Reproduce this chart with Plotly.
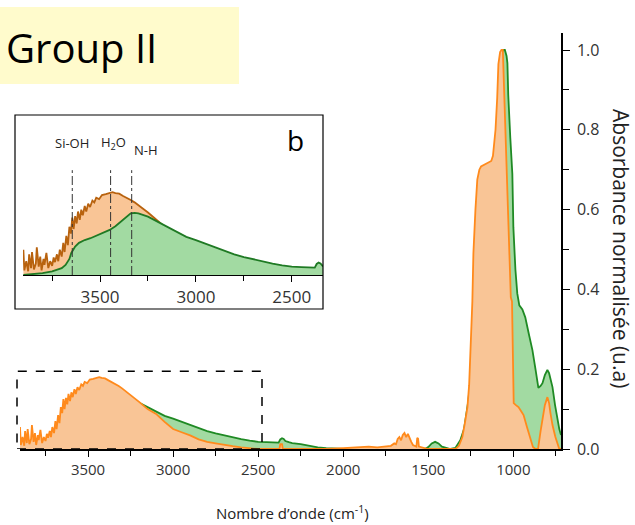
import plotly.graph_objects as go

# ---------------- data ----------------
wn_a = [3900, 3895, 3885, 3875, 3870, 3860, 3855, 3845, 3835, 3830, 3820, 3812, 3805, 3795, 3790,
        3780, 3770, 3760, 3750, 3742, 3735, 3725, 3718, 3710, 3700, 3692, 3685, 3676, 3668, 3660,
        3652, 3645, 3638, 3630, 3622, 3615, 3606, 3598, 3590, 3580, 3572, 3562, 3552, 3540, 3530,
        3520, 3505, 3490, 3470, 3450, 3435, 3420, 3400, 3380,
        3360, 3340, 3320, 3300, 3250, 3200, 3150, 3100, 3050, 3000, 2950, 2900, 2850, 2800, 2750,
        2700, 2650, 2600, 2550, 2500, 2400, 2375, 2370, 2360, 2355, 2300, 2100, 2000, 1900, 1850,
        1800, 1750, 1720, 1700, 1690, 1680, 1670, 1660, 1650, 1640, 1630, 1620, 1610, 1600, 1590,
        1580, 1570, 1565, 1560, 1555, 1540, 1500, 1400, 1340, 1320, 1300, 1285, 1270, 1260, 1253,
        1245, 1241, 1235, 1228, 1223, 1212, 1200, 1190, 1170, 1150, 1130, 1120, 1110, 1105, 1095,
        1088, 1078, 1070, 1062, 1058, 1052, 1045, 1035, 1025, 1015, 1008, 1002, 998, 985, 970,
        955, 940, 920, 900, 885, 870, 855, 840, 829, 815, 800, 790, 782, 770, 753, 740, 730, 720]
abs_a = [0.055, 0.010, 0.030, 0.008, 0.045, 0.015, 0.050, 0.012, 0.025, 0.060, 0.018, 0.040, 0.010, 0.035, 0.022,
         0.048, 0.015, 0.030, 0.020, 0.038, 0.028, 0.045, 0.030, 0.055, 0.040, 0.070, 0.050, 0.085, 0.065, 0.105,
         0.090, 0.125, 0.100, 0.128, 0.112, 0.138, 0.120, 0.142, 0.130, 0.150, 0.138, 0.155, 0.148, 0.162, 0.158,
         0.168, 0.165, 0.174, 0.176, 0.178, 0.180, 0.178, 0.177, 0.172,
         0.168, 0.163, 0.158, 0.152, 0.136, 0.118, 0.100, 0.088, 0.068, 0.050, 0.042, 0.034, 0.024, 0.018, 0.014,
         0.010, 0.007, 0.004, 0.002, 0.000, 0.000, 0.000, 0.012, 0.012, 0.000, 0.000, 0.000, 0.002, 0.004, 0.006,
         0.004, 0.006, 0.008, 0.014, 0.012, 0.025, 0.030, 0.022, 0.035, 0.040, 0.030, 0.038, 0.025, 0.018, 0.010,
         0.008, 0.006, 0.028, 0.026, 0.006, 0.004, 0.000, 0.000, 0.000, 0.008, 0.030, 0.065, 0.105, 0.160, 0.228,
         0.300, 0.370, 0.490, 0.560, 0.600, 0.675, 0.700, 0.708, 0.712, 0.717, 0.722, 0.735, 0.770, 0.800, 0.880,
         0.965, 0.995, 1.000, 1.000, 0.950, 0.880, 0.800, 0.650, 0.500, 0.380, 0.370, 0.200, 0.115, 0.110, 0.105,
         0.095, 0.085, 0.055, 0.025, 0.005, 0.000, 0.000, 0.045, 0.073, 0.110, 0.130, 0.115, 0.090, 0.060, 0.030, 0.010, 0.000, 0.000]

wn_b = [3900, 3850, 3800, 3750, 3700, 3680, 3660, 3650, 3630, 3610, 3580, 3550, 3520, 3480, 3450,
        3420, 3400, 3380, 3360, 3340, 3320, 3300, 3250, 3200, 3150, 3100, 3050, 3000, 2950, 2900,
        2850, 2800, 2750, 2700, 2650, 2600, 2550, 2500, 2450, 2400, 2380, 2370, 2360, 2350, 2340,
        2320, 2300, 2250, 2200, 2150, 2100, 2050, 2000, 1800, 1600, 1520, 1500, 1480, 1460, 1440,
        1420, 1400, 1370, 1340, 1312, 1290, 1282, 1265, 1253, 1240, 1230, 1220, 1200, 1150, 1120,
        1100, 1090, 1080, 1070, 1060, 1050, 1040, 1035, 1030, 1018, 1006, 1000, 994, 988, 977,
        965, 947, 930, 910, 888, 870, 853, 840, 829, 815, 800, 790, 770, 755, 741, 730, 720]
abs_b = [0.000, 0.002, 0.004, 0.008, 0.015, 0.022, 0.035, 0.048, 0.062, 0.070, 0.076, 0.080, 0.085, 0.092, 0.098,
         0.106, 0.113, 0.120, 0.128, 0.134, 0.135, 0.134, 0.127, 0.116, 0.104, 0.094, 0.083, 0.076, 0.068, 0.060,
         0.052, 0.045, 0.039, 0.034, 0.029, 0.025, 0.021, 0.018, 0.017, 0.016, 0.016, 0.024, 0.027, 0.025, 0.020,
         0.017, 0.015, 0.012, 0.008, 0.004, 0.002, 0.001, 0.000, 0.000, 0.000, 0.000, 0.005, 0.014, 0.018, 0.014,
         0.006, 0.003, 0.000, 0.003, 0.022, 0.050, 0.073, 0.120, 0.170, 0.300, 0.450, 0.550, 0.620, 0.660, 0.700,
         0.780, 0.880, 0.960, 0.990, 1.000, 1.000, 0.985, 0.967, 0.887, 0.780, 0.690, 0.556, 0.500, 0.450, 0.390,
         0.360, 0.350, 0.330, 0.290, 0.248, 0.200, 0.153, 0.158, 0.165, 0.185, 0.198, 0.190, 0.155, 0.110, 0.073, 0.050, 0.035]

x_ticks = [3500, 3000, 2500, 2000, 1500, 1000]
inset_ticks = [3500, 3000, 2500]
band_pos = [3645, 3445, 3335]
band_labels = ["Si-OH", "H<sub>2</sub>O", "N-H"]
band_label_pos = [3648, 3432, 3262]

# ---------------- geometry helpers (pixels -> paper) ----------------
W, H = 635, 525
L, R, T, B = 20, 561, 33, 449   # plot area in pixels


def px(xp):
    return (xp - L) / (R - L)


def py(yp):
    return (B - yp) / (B - T)


ORANGE_LINE = "#FF8A1C"
ORANGE_FILL = "#F9C596"
ORANGE_DARK = "#B8620E"
GREEN_LINE = "#1F8A24"
GREEN_FILL = "#A2DAA2"
GREEN_DARK = "#1F7A24"

fig = go.Figure()

# main chart traces (orange drawn over green)
fig.add_trace(go.Scatter(x=wn_b, y=abs_b, mode="lines", fill="tozeroy",
                         line=dict(color=GREEN_LINE, width=1.8), fillcolor=GREEN_FILL,
                         showlegend=False, hoverinfo="skip"))
fig.add_trace(go.Scatter(x=wn_a, y=abs_a, mode="lines", fill="tozeroy",
                         line=dict(color=ORANGE_LINE, width=1.8), fillcolor=ORANGE_FILL,
                         showlegend=False, hoverinfo="skip"))
# inset traces (green drawn over orange)
fig.add_trace(go.Scatter(x=wn_a, y=abs_a, mode="lines", fill="tozeroy", xaxis="x2", yaxis="y2",
                         line=dict(color=ORANGE_DARK, width=1.8), fillcolor=ORANGE_FILL,
                         showlegend=False, hoverinfo="skip"))
fig.add_trace(go.Scatter(x=wn_b, y=abs_b, mode="lines", fill="tozeroy", xaxis="x2", yaxis="y2",
                         line=dict(color=GREEN_DARK, width=1.8), fillcolor=GREEN_FILL,
                         showlegend=False, hoverinfo="skip"))

tickfont = dict(family="Open Sans, Arial, sans-serif", size=15, color="#333333")

fig.update_layout(
    width=W, height=H,
    margin=dict(l=L, r=W - R, t=T, b=H - B),
    paper_bgcolor="white", plot_bgcolor="rgba(0,0,0,0)",
    xaxis=dict(range=[3900, 720], tickvals=x_ticks, ticks="outside", ticklen=6,
               tickcolor="black", showline=True, linecolor="black", linewidth=1.5,
               showgrid=False, zeroline=False, tickfont=tickfont,
               minor=dict(dtick=250, tick0=0, ticks="outside", ticklen=5, tickcolor="black")),
    yaxis=dict(range=[0, (B - T) / 399.0], side="right", dtick=0.2, tick0=0, tickformat=".1f",
               ticks="outside", ticklen=7, tickcolor="black", showline=True, linecolor="black",
               linewidth=1.5, showgrid=False, zeroline=False,
               tickfont=dict(family="Open Sans, Arial, sans-serif", size=16, color="#333333"),
               ticklabelstandoff=4,
               minor=dict(dtick=0.1, ticks="outside", ticklen=6, tickcolor="black")),
    xaxis2=dict(domain=[px(23), px(323)], anchor="y2", range=[3902, 2337], tickvals=inset_ticks,
                ticks="outside", ticklen=6, tickcolor="black", showline=True, linecolor="black",
                linewidth=1.2, showgrid=False, zeroline=False,
                tickfont=dict(family="Open Sans, Arial, sans-serif", size=17, color="#333333"),
                minor=dict(dtick=250, tick0=0, ticks="outside", ticklen=5, tickcolor="black")),
    yaxis2=dict(domain=[py(275), py(115)], anchor="x2", range=[0, 0.348], visible=False),
)

shapes = []
# title background
shapes.append(dict(type="rect", xref="paper", yref="paper", x0=px(0), x1=px(239), y0=py(84), y1=py(7),
                   fillcolor="#FFFBCC", line=dict(width=0), layer="below"))
# inset frame
shapes.append(dict(type="rect", xref="paper", yref="paper", x0=px(15), x1=px(323), y0=py(309), y1=py(115),
                   line=dict(color="black", width=1.2), fillcolor="rgba(0,0,0,0)"))
# dashed zoom region in main chart
shapes.append(dict(type="rect", xref="paper", yref="y", x0=px(17), x1=px(262), y0=0, y1=0.195,
                   line=dict(color="black", width=1.5, dash="dash")))
# band marker lines in inset
for b in band_pos:
    shapes.append(dict(type="line", xref="x2", yref="y2", x0=b, x1=b, y0=0, y1=0.228,
                       line=dict(color="#333333", width=1, dash="dashdot")))
fig.update_layout(shapes=shapes)

ann = []
ann.append(dict(text="Group II", xref="paper", yref="paper", x=px(4), y=py(47), xanchor="left",
                yanchor="middle", showarrow=False,
                font=dict(family="Open Sans, sans-serif", size=40, color="black")))
ann.append(dict(text="Nombre d\u2019onde (cm<sup>-1</sup>)", xref="paper", yref="paper", x=px(292), y=py(512),
                xanchor="center", yanchor="middle", showarrow=False,
                font=dict(family="Open Sans, sans-serif", size=15, color="#222222")))
ann.append(dict(text="Absorbance normalisée (u.a)", xref="paper", yref="paper", x=px(621), y=py(248),
                xanchor="center", yanchor="middle", showarrow=False, textangle=90,
                font=dict(family="Open Sans, sans-serif", size=21, color="#222222")))
for lab, pos, yy in zip(band_labels, band_label_pos, [0.287, 0.287, 0.272]):
    ann.append(dict(text=lab, xref="x2", yref="y2", x=pos, y=yy, xanchor="center", yanchor="middle",
                    showarrow=False, font=dict(family="Open Sans, sans-serif", size=13, color="#222222")))
ann.append(dict(text="b", xref="x2", yref="y2", x=2479, y=0.293, xanchor="center", yanchor="middle",
                showarrow=False, font=dict(family="Open Sans, sans-serif", size=28, color="black")))
fig.update_layout(annotations=ann)

fig.write_html("out.html")
